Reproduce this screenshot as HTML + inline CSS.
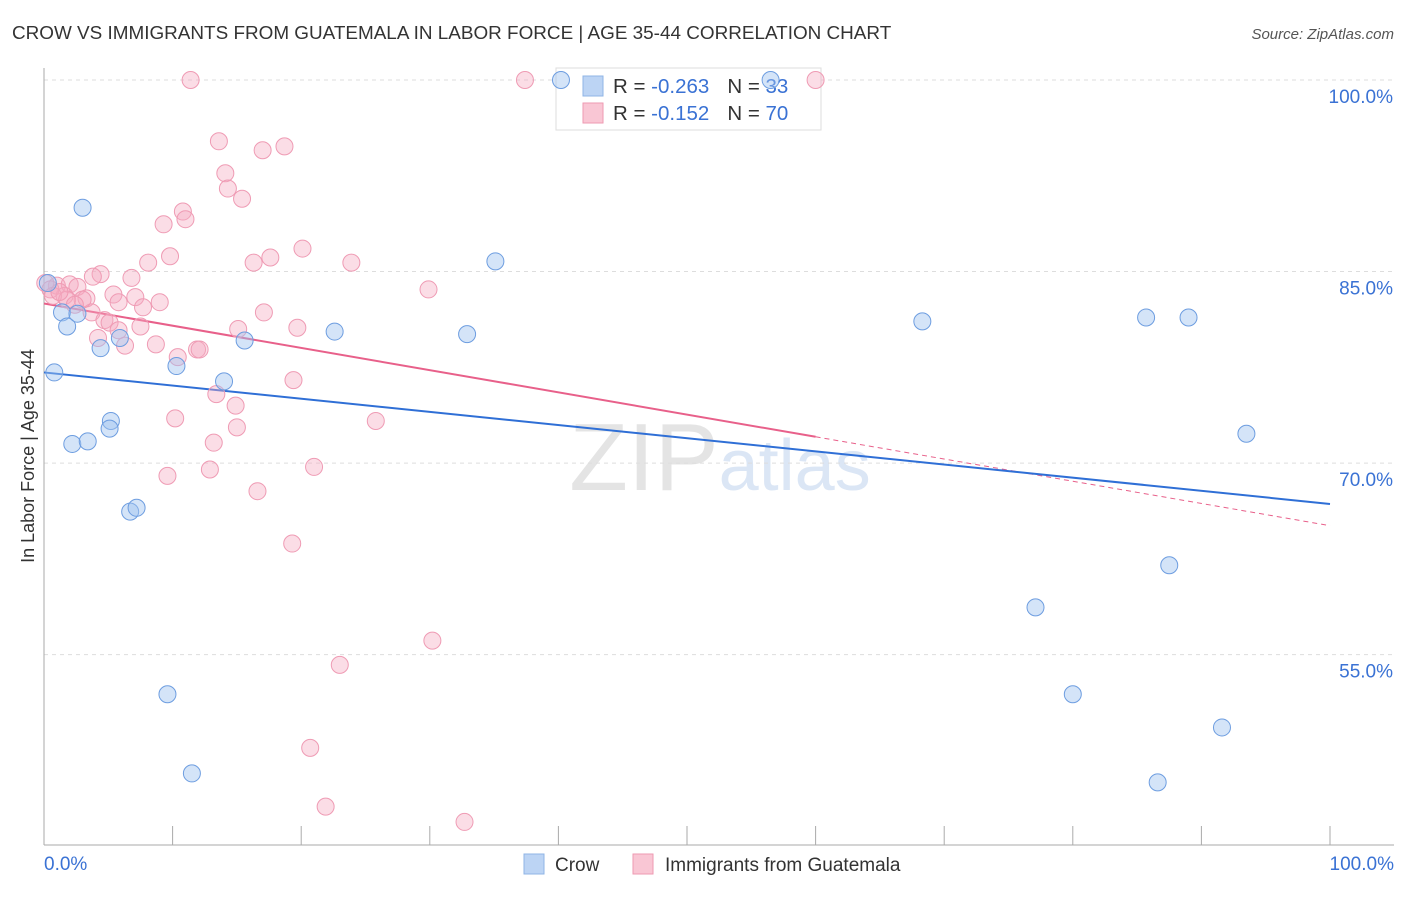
<!DOCTYPE html>
<html><head><meta charset="utf-8"><style>
body{margin:0;background:#fff;font-family:"Liberation Sans",sans-serif;}
svg text{font-family:"Liberation Sans",sans-serif;}
</style></head><body>
<svg id="chart" width="1406" height="892" xmlns="http://www.w3.org/2000/svg">
<text x="12" y="39" font-size="18.9" fill="#333">CROW VS IMMIGRANTS FROM GUATEMALA IN LABOR FORCE | AGE 35-44 CORRELATION CHART</text>
<text x="1394" y="39" font-size="15" fill="#555" text-anchor="end" font-style="italic">Source: ZipAtlas.com</text>
<text x="720" y="490" font-size="96" text-anchor="middle" fill="#e4e4e4" font-family="Liberation Serif">ZIP<tspan fill="#dbe6f5" font-family="Liberation Sans" font-size="72">atlas</tspan></text>
<text transform="translate(34,456) rotate(-90)" font-size="18" fill="#333" text-anchor="middle">In Labor Force | Age 35-44</text>
<g id="grid"></g><g id="axes"></g>
<g>
<rect x="556" y="68" width="265" height="62" fill="#fff" stroke="#ddd"/>
<rect x="583" y="76" width="20" height="20" fill="#bcd4f4" stroke="#8fb4e6"/>
<text x="613" y="93" font-size="20.5" fill="#333">R = <tspan fill="#3a72d4">-0.263</tspan><tspan dx="18">N = </tspan><tspan fill="#3a72d4">33</tspan></text>
<rect x="583" y="103" width="20" height="20" fill="#f9c6d4" stroke="#ee9ab2"/>
<text x="613" y="120" font-size="20.5" fill="#333">R =  <tspan fill="#3a72d4">-0.152</tspan><tspan dx="18">N = </tspan><tspan fill="#3a72d4">70</tspan></text>
</g>
<g id="trends"></g><g id="pts"></g>
<g>
<rect x="524" y="854" width="20" height="20" fill="#bcd4f4" stroke="#8fb4e6"/>
<text x="555" y="871" font-size="19" fill="#333">Crow</text>
<rect x="633" y="854" width="20" height="20" fill="#f9c6d4" stroke="#ee9ab2"/>
<text x="665" y="871" font-size="19" fill="#333">Immigrants from Guatemala</text>
</g>
</svg>
<script>
const crowX=[40.2,56.5,3.0,35.1,1.4,1.8,2.6,4.4,5.9,15.6,22.6,32.9,68.3,85.7,89.0,0.8,10.3,14.0,5.2,5.1,2.2,3.4,93.5,6.7,7.2,87.5,77.1,9.6,80.0,91.6,11.5,86.6,0.3];
const crowY=[100,100,90.0,85.8,81.8,80.7,81.7,79.0,79.8,79.6,80.3,80.1,81.1,81.4,81.4,77.1,77.6,76.4,73.3,72.7,71.5,71.7,72.3,66.2,66.5,62.0,58.7,51.9,51.9,49.3,45.7,45.0,84.1];
const guaX=[11.4,37.4,60.0,13.6,18.7,17.0,14.1,14.3,15.4,10.8,11.0,9.3,20.1,9.8,8.1,17.6,16.3,23.9,4.4,3.8,6.8,29.9,1.0,2.0,2.6,5.4,7.1,3.3,1.6,9.0,5.8,7.7,3.7,17.1,4.7,5.1,7.5,15.1,19.7,4.2,6.3,8.7,11.9,12.1,10.4,19.4,13.4,14.9,10.2,25.8,15.0,13.2,21.0,12.9,9.6,16.6,19.3,30.2,23.0,20.7,21.9,32.7,0.1,0.5,0.7,1.8,1.2,3.0,2.4,5.8];
const guaY=[100,100,100,95.2,94.8,94.5,92.7,91.5,90.7,89.7,89.1,88.7,86.8,86.2,85.7,86.1,85.7,85.7,84.8,84.6,84.5,83.6,83.9,84.0,83.8,83.2,83.0,82.9,83.1,82.6,82.6,82.2,81.8,81.8,81.2,81.0,80.7,80.5,80.6,79.8,79.2,79.3,78.9,78.9,78.3,76.5,75.4,74.5,73.5,73.3,72.8,71.6,69.7,69.5,69.0,67.8,63.7,56.1,54.2,47.7,43.1,41.9,84.1,83.6,83.1,82.8,83.4,82.8,82.4,80.4];
const crowTrend=[77.1,66.8];
const guaTrend=[82.5,65.1];
const guaSolidEnd=60;
const yTicks=[100,85,70,55];
const xTickLabels=["0.0%","100.0%"];
const NS="http://www.w3.org/2000/svg";
const X=v=>44+v*12.86, Y=v=>80+(100-v)*12.77;
function mk(tag,attrs,parent){const e=document.createElementNS(NS,tag);for(const k in attrs)e.setAttribute(k,attrs[k]);document.getElementById(parent).appendChild(e);return e;}
yTicks.forEach(t=>{
 const l=mk('line',{x1:44,x2:1394,y1:Y(t),y2:Y(t),stroke:'#ddd','stroke-dasharray':'4,4'},'grid');
 
 
 const tx=mk('text',{x:1393,y:Y(t)+23,'font-size':19,fill:'#3a72d4','text-anchor':'end'},'axes');
 tx.textContent=t.toFixed(1)+'%';
 
 
});
const ax=mk('line',{x1:44,x2:44,y1:68,y2:845,stroke:'#aaa'},'axes');


const bx=mk('line',{x1:44,x2:1394,y1:845,y2:845,stroke:'#aaa'},'axes');


for(let i=0;i<=10;i++){const t=mk('line',{x1:X(i*10),x2:X(i*10),y1:826,y2:845,stroke:'#aaa'},'axes');
 
 }
[[0,'start',44],[100,'end',1394]].forEach((d,i)=>{const t=mk('text',{x:d[2],y:870,'font-size':19,fill:'#3a72d4','text-anchor':d[1]},'axes');t.textContent=xTickLabels[i];
 
 });
const gy=x=>guaTrend[0]+(guaTrend[1]-guaTrend[0])*x/100;
let l1=mk('line',{x1:X(0),y1:Y(gy(0)),x2:X(guaSolidEnd),y2:Y(gy(guaSolidEnd)),stroke:'#e8608a','stroke-width':2},'trends');


let l2=mk('line',{x1:X(guaSolidEnd),y1:Y(gy(guaSolidEnd)),x2:X(100),y2:Y(gy(100)),stroke:'#e8608a','stroke-width':1,'stroke-dasharray':'5,4'},'trends');


let l3=mk('line',{x1:X(0),y1:Y(crowTrend[0]),x2:X(100),y2:Y(crowTrend[1]),stroke:'#2f6fd6','stroke-width':2},'trends');


guaX.forEach((x,i)=>{const c=mk('circle',{cx:X(x),cy:Y(guaY[i]),r:8.5,fill:'rgba(246,170,192,0.4)',stroke:'#ef9bb4','stroke-width':1},'pts');
 
 });
crowX.forEach((x,i)=>{const c=mk('circle',{cx:X(x),cy:Y(crowY[i]),r:8.5,fill:'rgba(160,195,240,0.45)',stroke:'#6d9de0','stroke-width':1},'pts');
 
 });
</script>
</body></html>
